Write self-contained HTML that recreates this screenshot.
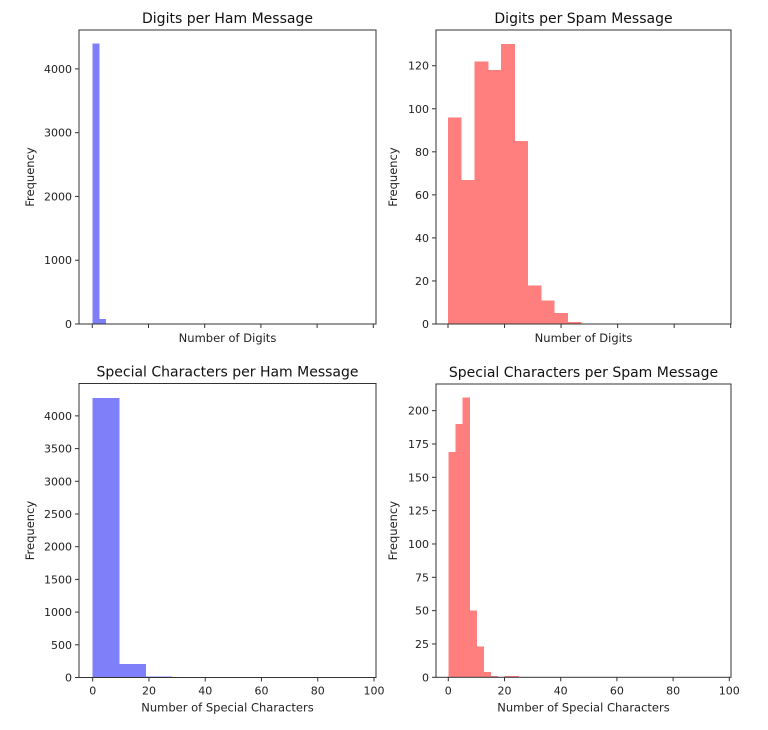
<!DOCTYPE html>
<html><head><meta charset="utf-8">
<style>
body{margin:0;background:#fff;}
svg{display:block;font-family:"DejaVu Sans","Liberation Sans",sans-serif;}
.tk{font-size:11px;fill:#222;}
.lb{font-size:11.5px;fill:#222;}
.tt{font-size:14px;fill:#111;}
</style></head><body>
<svg id="fig" width="768" height="730" viewBox="0 0 768 730"></svg>
<script>
// Data arrays
const hamDigitCounts = [4400, 80, 10];
const spamDigitCounts = [96, 67, 122, 118, 130, 85, 18, 11, 5, 1];
const hamSpecialCounts = [4270, 210, 15, 3];
const spamSpecialCounts = [169, 190, 210, 50, 23, 4, 1, 0, 1, 1];
const xTickValues = [0, 20, 40, 60, 80, 100];
const hamDigitYTicks = [0, 1000, 2000, 3000, 4000];
const spamDigitYTicks = [0, 20, 40, 60, 80, 100, 120];
const hamSpecialYTicks = [0, 500, 1000, 1500, 2000, 2500, 3000, 3500, 4000];
const spamSpecialYTicks = [0, 25, 50, 75, 100, 125, 150, 175, 200];

const NS = "http://www.w3.org/2000/svg";
const fig = document.getElementById('fig');
function mk(tag, attrs, parent, text){
  const e = document.createElementNS(NS, tag);
  for (const k in attrs) e.setAttribute(k, attrs[k]);
  if (text !== undefined) e.textContent = text;
  parent.appendChild(e);
  return e;
}

function panel(p){
  const g = mk('g', {}, fig);
  
  
  const xs = v => p.x0 + (v - 0) * (p.x100 - p.x0) / 100;
  const ys = v => p.b - v * (p.b - p.t) / p.ymax;
  p.counts.forEach((c, i) => {
    const xa = xs(i * p.bin), xb = xs((i + 1) * p.bin);
    const r = mk('rect', {x: xa, y: ys(c), width: xb - xa + 0.4, height: p.b - ys(c), fill: p.color, 'shape-rendering': 'crispEdges'}, g);
    
    
  });
  const f = mk('rect', {x: p.l, y: p.t, width: p.r - p.l, height: p.b - p.t, fill: 'none', stroke: '#333', 'stroke-width': 1}, g);
  
  
  xTickValues.forEach(v => {
    const x = xs(v);
    mk('line', {x1: x, x2: x, y1: p.b, y2: p.b + 4, stroke: '#333'}, g);
    if (p.xlabels) {
      const t = mk('text', {x: x, y: p.b + 17, 'text-anchor': 'middle', class: 'tk'}, g, String(v));
      
      
    }
  });
  p.yticks.forEach(v => {
    const y = ys(v);
    mk('line', {x1: p.l - 4, x2: p.l, y1: y, y2: y, stroke: '#333'}, g);
    const t = mk('text', {x: p.l - 7, y: y + 4, 'text-anchor': 'end', class: 'tk'}, g, String(v));
    
    
  });
  const title = mk('text', {x: (p.l + p.r) / 2, y: p.t - 7, 'text-anchor': 'middle', class: 'tt'}, g, p.title);
  
  
  const xl = mk('text', {x: (p.l + p.r) / 2, y: p.b + (p.xlabels ? 34 : 18), 'text-anchor': 'middle', class: 'lb'}, g, p.xlabel);
  
  
  const cy = (p.t + p.b) / 2;
  const yl = mk('text', {x: p.ylx, y: cy, 'text-anchor': 'middle', class: 'lb', transform: 'rotate(-90 ' + p.ylx + ' ' + cy + ')'}, g, 'Frequency');
  
  
}

panel({name:'ham-digits-chart', title:'Digits per Ham Message', xlabel:'Number of Digits', xlabels:false,
  l:79, r:376, t:30, b:324, x0:92.3, x100:373.3, ymax:4610, bin:2.37, counts:hamDigitCounts, yticks:hamDigitYTicks, color:'#7f7ff9', ylx:34});
panel({name:'spam-digits-chart', title:'Digits per Spam Message', xlabel:'Number of Digits', xlabels:false,
  l:436, r:731, t:30, b:324, x0:448, x100:730.7, ymax:136.6, bin:4.7, counts:spamDigitCounts, yticks:spamDigitYTicks, color:'#ff7f7f', ylx:397});
panel({name:'ham-special-chart', title:'Special Characters per Ham Message', xlabel:'Number of Special Characters', xlabels:true,
  l:79, r:376, t:383.5, b:677.5, x0:92.7, x100:374, ymax:4495, bin:9.37, counts:hamSpecialCounts, yticks:hamSpecialYTicks, color:'#7f7ff9', ylx:34});
panel({name:'spam-special-chart', title:'Special Characters per Spam Message', xlabel:'Number of Special Characters', xlabels:true,
  l:436, r:731, t:384, b:677.3, x0:448.3, x100:729.3, ymax:220, bin:2.5, counts:spamSpecialCounts, yticks:spamSpecialYTicks, color:'#ff7f7f', ylx:397});
</script>
</body></html>
